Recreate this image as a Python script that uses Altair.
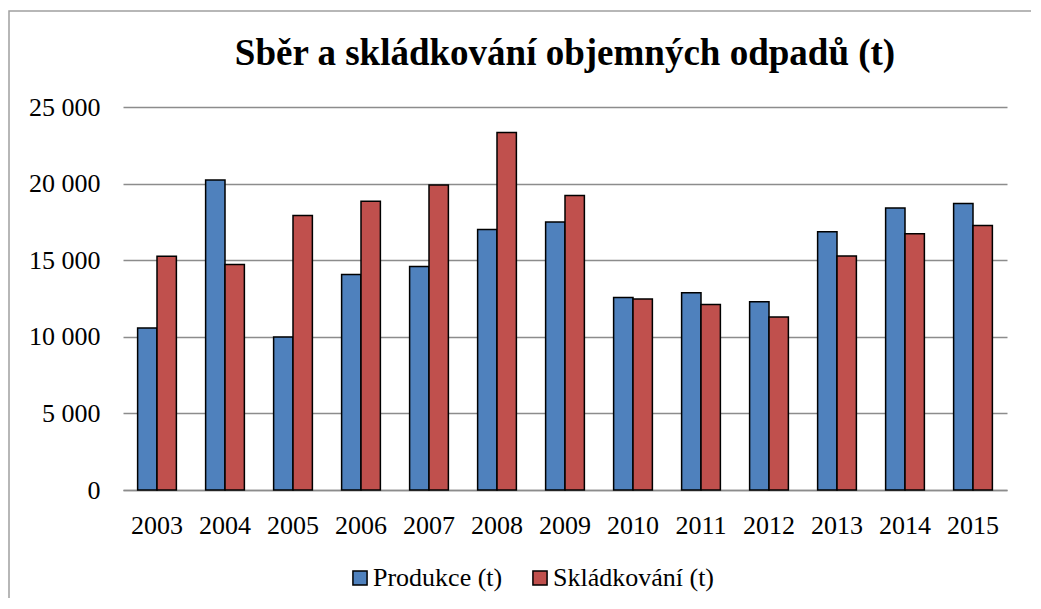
import altair as alt
import pandas as pd

years = ["2003", "2004", "2005", "2006", "2007", "2008", "2009",
         "2010", "2011", "2012", "2013", "2014", "2015"]
produkce = [10570, 20240, 9980, 14070, 14590, 17000, 17500,
            12570, 12870, 12280, 16850, 18410, 18700]
skladkovani = [15260, 14720, 17910, 18850, 19910, 23330, 19220,
               12460, 12110, 11300, 15280, 16720, 17260]
series = ["Produkce (t)", "Skládkování (t)"]
colors = ["#4F81BD", "#C0504D"]

rows = []
for i, y in enumerate(years):
    rows.append({"rok": y, "serie": series[0], "hodnota": produkce[i]})
    rows.append({"rok": y, "serie": series[1], "hodnota": skladkovani[i]})
df = pd.DataFrame(rows)

FONT = "Liberation Serif"

bars = alt.Chart(df).mark_bar(stroke="black", strokeWidth=1.5).encode(
    x=alt.X("rok:N", sort=years,
            scale=alt.Scale(paddingInner=0.43, paddingOuter=0.215),
            axis=alt.Axis(title=None, labelAngle=0, ticks=False, domain=True,
                          domainColor="#8c8c8c", domainWidth=1.5,
                          labelPadding=22, labelFontSize=26, labelFont=FONT,
                          labelColor="black", grid=False)),
    xOffset=alt.XOffset("serie:N", sort=series),
    y=alt.Y("hodnota:Q",
            scale=alt.Scale(domain=[0, 25000]),
            axis=alt.Axis(title=None, values=[0, 5000, 10000, 15000, 20000, 25000],
                          labelExpr="replace(format(datum.value, ','), ',', ' ')",
                          ticks=False, domain=False, labelPadding=23,
                          labelFontSize=26, labelFont=FONT, labelColor="black",
                          grid=True, gridColor="#8c8c8c", gridWidth=1.5)),
    color=alt.Color("serie:N", sort=series,
                    scale=alt.Scale(domain=series, range=colors),
                    legend=alt.Legend(title=None, orient="none", direction="horizontal",
                                      legendX=224, legendY=458,
                                      symbolType="square", symbolSize=200,
                                      symbolStrokeColor="black", symbolStrokeWidth=1.5,
                                      labelFontSize=26, labelFont=FONT, labelColor="black",
                                      labelOffset=0, labelLimit=400, columnPadding=24)),
)

frame = alt.Chart(pd.DataFrame({"a": [0]})).mark_rect(
    fill="transparent", stroke="#a0a0a0", strokeWidth=1.5
).encode(
    x=alt.value(-114), y=alt.value(-96), x2=alt.value(3000), y2=alt.value(3000)
)

chart = alt.layer(frame, bars).properties(
    width=884,
    height=383,
    autosize=alt.AutoSizeParams(type="none"),
    padding={"left": 115, "top": 99, "right": 24, "bottom": 108},
    title=alt.TitleParams("Sběr a skládkování objemných odpadů (t)",
                          font=FONT, fontSize=37, fontWeight="bold", color="black",
                          anchor="middle", frame="group", offset=-63),
).configure_view(stroke=None)

chart.save("out.html", embed_options={"renderer": "svg", "actions": False})
